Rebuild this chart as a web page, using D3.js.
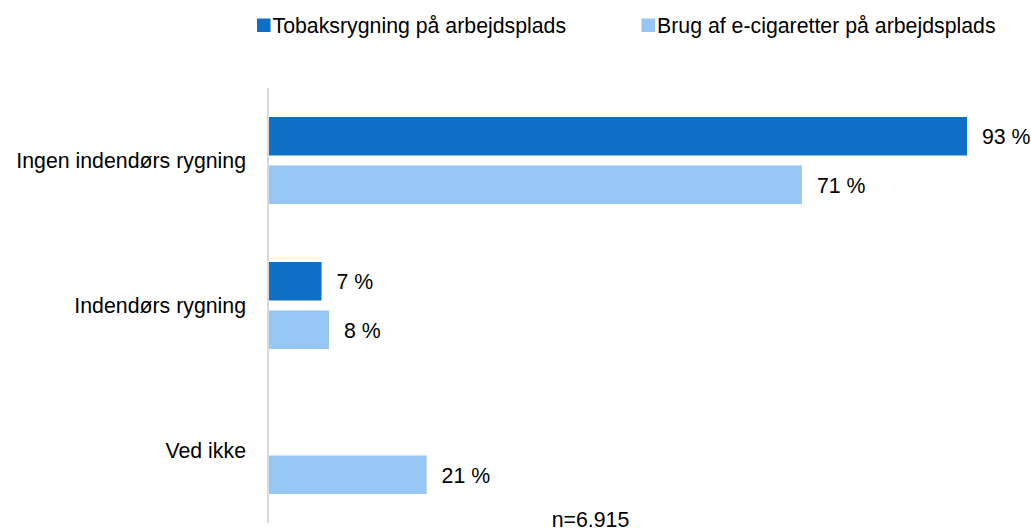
<!DOCTYPE html>
<html>
<head>
<meta charset="utf-8">
<script src="https://cdn.jsdelivr.net/npm/d3@7"></script>
<style>
  body { margin: 0; background: #fff; }
  text { font-family: "Liberation Sans", Arial, sans-serif; fill: #000; }
</style>
</head>
<body>
<svg width="1031" height="531"></svg>
<script>

let categories = ['Ingen indendørs rygning', 'Indendørs rygning', 'Ved ikke'];
let seriesNames = ['Tobaksrygning på arbejdsplads', 'Brug af e-cigaretter på arbejdsplads'];
let tobak = [93, 7, null];
let eCig = [71, 8, 21];
let note = 'n=6.915';

let colors = ['#0f6fc6', '#95c6f4'];
let fontSize = 21.3;

let svg = d3.select('svg');

let xScale = d3.scaleLinear()
               .domain([0, 93])
               .range([269, 967]);

let yScale = d3.scaleBand()
               .domain(categories)
               .range([88, 523]);

let innerScale = d3.scaleBand()
                   .domain([0, 1])
                   .range([29, 116])
                   .paddingInner(0.206);

// axis line
svg.append('line')
   .attr('x1', 268).attr('x2', 268)
   .attr('y1', 88).attr('y2', 523)
   .attr('stroke', '#d9d9d9')
   .attr('stroke-width', 2);

// category labels
svg.append('g')
   .selectAll('text')
   .data(categories)
   .join('text')
   .attr('x', 246)
   .attr('y', function(d) { return yScale(d) + yScale.bandwidth() / 2; })
   .attr('dy', '0.33em')
   .attr('text-anchor', 'end')
   .style('font-size', fontSize + 'px')
   .text(function(d) { return d; });

let allSeries = [tobak, eCig];

allSeries.forEach(function(values, s) {
  let rows = categories.map(function(c, i) {
    return { cat: c, value: values[i] };
  }).filter(function(d) { return d.value != null; });

  let g = svg.append('g');

  g.selectAll('rect')
   .data(rows)
   .join('rect')
   .attr('x', xScale(0))
   .attr('y', function(d) { return yScale(d.cat) + innerScale(s); })
   .attr('width', function(d) { return xScale(d.value) - xScale(0); })
   .attr('height', innerScale.bandwidth())
   .attr('fill', colors[s]);

  g.selectAll('text')
   .data(rows)
   .join('text')
   .attr('x', function(d) { return xScale(d.value) + 15; })
   .attr('y', function(d) { return yScale(d.cat) + innerScale(s) + innerScale.bandwidth() / 2; })
   .attr('dy', '0.37em')
   .style('font-size', fontSize + 'px')
   .text(function(d) { return d.value + ' %'; });
});

// legend
let legendX = [257, 641.5];
seriesNames.forEach(function(name, s) {
  svg.append('rect')
     .attr('x', legendX[s])
     .attr('y', 18.5)
     .attr('width', 13.5)
     .attr('height', 13.5)
     .attr('fill', colors[s]);
  svg.append('text')
     .attr('x', legendX[s] + 15.5)
     .attr('y', 33)
     .style('font-size', fontSize + 'px')
     .text(name);
});

// note
svg.append('text')
   .attr('x', 590.5)
   .attr('y', 527)
   .attr('text-anchor', 'middle')
   .style('font-size', fontSize + 'px')
   .text(note);

</script>
</body>
</html>
